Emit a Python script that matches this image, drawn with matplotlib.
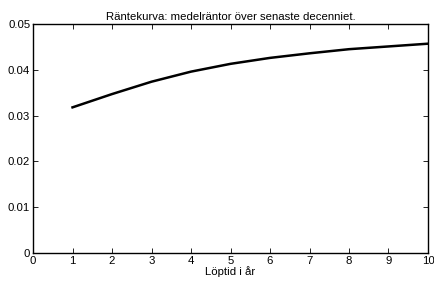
import matplotlib
matplotlib.use("Agg")
import matplotlib.pyplot as plt

plt.rcParams['font.family'] = ['Liberation Sans', 'DejaVu Sans']

maturity = [1, 2, 3, 4, 5, 6, 7, 8, 9, 10]
rates = [0.0318, 0.0347, 0.0374, 0.0396, 0.0413, 0.0426, 0.0436, 0.0445, 0.0451, 0.0457]
xticks = [0, 1, 2, 3, 4, 5, 6, 7, 8, 9, 10]
yticks = [0, 0.01, 0.02, 0.03, 0.04, 0.05]
ytick_labels = ['0', '0.01', '0.02', '0.03', '0.04', '0.05']

fig = plt.figure(figsize=(4.35, 2.81), dpi=100)
ax = fig.add_axes([0.0759, 0.0996, 0.908, 0.815])
ax.plot(maturity, rates, color='black', linewidth=1.8)
ax.set_xlim(0, 10)
ax.set_ylim(0, 0.05)
ax.set_xticks(xticks)
ax.set_xticklabels([str(t) for t in xticks])
ax.set_yticks(yticks)
ax.set_yticklabels(ytick_labels)
ax.tick_params(direction='in', top=True, right=True, length=3.5, width=0.6, labelsize=8.2, pad=2)
for s in ax.spines.values():
    s.set_linewidth(1.0)
ax.set_title('Räntekurva: medelräntor över senaste decenniet.', fontsize=8.2, pad=3)
ax.set_xlabel('Löptid i år', fontsize=8.2, labelpad=0.5)
fig.savefig('out.png', dpi=100)
